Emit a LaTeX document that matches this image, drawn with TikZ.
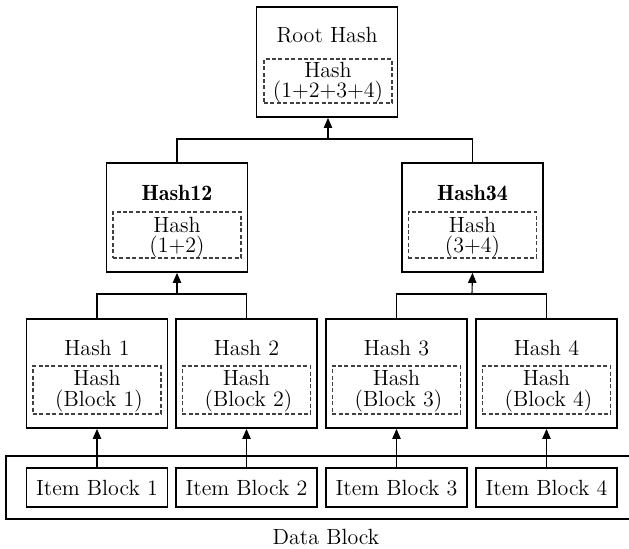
\documentclass[tikz,border=0pt]{standalone}
\usetikzlibrary{arrows.meta}
\begin{document}
\begin{tikzpicture}[x=0.5pt,y=-0.5pt,
  font=\fontsize{11}{13}\selectfont,
  hbox/.style={draw,line width=0.9pt,minimum width=70.5pt,inner sep=0pt},
  dbox/.style={draw=black!75,dash pattern=on 2pt off 1.2pt,line width=0.6pt,minimum width=64pt,inner sep=0pt},
  conn/.style={line width=0.55pt},
  arr/.style={conn,-{Triangle[width=4.2pt,length=5pt]}},
  txt/.style={inner sep=0pt},
  btxt/.style={inner sep=0pt,font=\fontsize{11}{13}\fontseries{b}\selectfont}]
\useasboundingbox (0,0) rectangle (629,549);
\clip (0,0) rectangle (629,549);
% data block container
\draw[line width=0.6pt] (640,456) -- (6,456) -- (6,519) -- (640,519);
% root
\node[hbox,minimum height=55pt] (root) at (327,62) {};
\node[dbox,minimum height=22pt] (rootd) at (328,81) {};
\node[txt] (roott) at (327,35) {Root Hash};
\node[txt] (rootd1) at (328,70) {Hash};
\node[txt] (rootd2) at (328,92) {(1+2+3+4)};
% level 2
\node[hbox,minimum height=54.5pt] (h12) at (177,217.5) {};
\node[dbox,minimum height=23pt] (h12d) at (177,235) {};
\node[btxt] (h12t) at (177,193) {Hash12};
\node[txt] (h12d1) at (177,225) {Hash};
\node[txt] (h12d2) at (177,247) {(1+2)};
\node[hbox,minimum height=54.5pt] (h34) at (472.5,217.5) {};
\node[dbox,minimum height=23pt] (h34d) at (472.5,235) {};
\node[btxt] (h34t) at (472.5,193) {Hash34};
\node[txt] (h34d1) at (472.5,225) {Hash};
\node[txt] (h34d2) at (472.5,247) {(3+4)};
% leaves
\foreach \i/\x in {1/97,2/246.5,3/396.5,4/546.5}{
  \node[hbox,minimum height=54.5pt] (h\i) at (\x,373.5) {};
  \node[dbox,minimum height=24pt] (h\i d) at (\x,390) {};
  \node[txt] (h\i t) at (\x,348) {Hash \i};
  \node[txt] (h\i d1) at (\x,378) {Hash};
  \node[txt] (h\i d2) at (\x+2,401) {(Block \i)};
  \node[hbox,minimum height=19.5pt] (b\i) at (\x,487.5) {};
  \node[txt] (b\i t) at (\x,488) {Item Block \i};
  \draw[arr] (b\i.north) -- (h\i.south);
}
\node[txt] (db) at (326,537) {Data Block};
% connectors
\coordinate (bar12) at (177,294);
\coordinate (bar34) at (472,294);
\coordinate (barr) at (328,139);
\draw[conn] (h1.north) |- (bar12) -| (h2.north);
\draw[arr] (bar12) -- (h12.south);
\draw[conn] (h3.north) |- (bar34) -| (h4.north);
\draw[arr] (bar34) -- (h34.south);
\draw[conn] (h12.north) |- (barr) -| (h34.north);
\draw[arr] (barr) -- (root.south -| barr);
\end{tikzpicture}
\end{document}
